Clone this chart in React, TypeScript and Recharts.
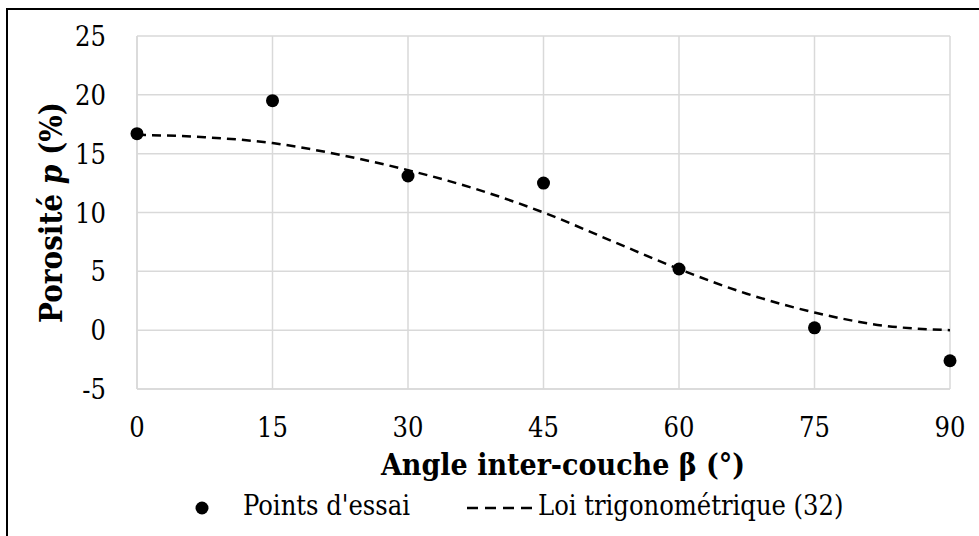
import { CartesianGrid, ComposedChart, Label, Line, Scatter, XAxis, YAxis } from "recharts";

const essaiAngles = [0, 15, 30, 45, 60, 75, 90];
const essaiPorosite = [16.7, 19.5, 13.1, 12.5, 5.2, 0.2, -2.6];

const loiAngles = [0, 7.5, 15, 22.5, 30, 37.5, 45, 52.5, 60, 67.5, 75, 82.5, 90];
const loiPorosite = [16.6, 16.4, 15.9, 14.9, 13.6, 12.0, 10.0, 7.6, 5.2, 3.1, 1.5, 0.4, 0.0];

const xTicks = [0, 15, 30, 45, 60, 75, 90];
const yTicks = [-5, 0, 5, 10, 15, 20, 25];

const essai = essaiAngles.map((x, i) => ({ x, p: essaiPorosite[i] }));
const loi = loiAngles.map((x, i) => ({ x, p: loiPorosite[i] }));

// Liberation Serif isn't picked up here, the condensed DejaVu face is the closest to Times
const SERIF = '"DejaVu Serif Condensed", "DejaVu Serif", serif';
const txt = { fontFamily: SERIF, fontStretch: "condensed" } as const;
const GRID = "#d9d9d9";

function XTick({ x, y, payload }: any) {
  return (
    <text x={x} y={y + 46} textAnchor="middle" style={txt} fontSize={27} fill="#000">
      {payload.value}
    </text>
  );
}

function YTick({ x, y, payload }: any) {
  return (
    <text x={x - 29} y={y + 10} textAnchor="end" style={txt} fontSize={27} fill="#000">
      {payload.value}
    </text>
  );
}

function YTitle({ viewBox }: any) {
  const cy = viewBox.y + viewBox.height / 2;
  return (
    <text
      x={62}
      y={cy}
      transform={`rotate(-90 62 ${cy})`}
      textAnchor="middle"
      style={txt}
      fontSize={31}
      fontWeight="bold"
      fill="#000"
    >
      Porosité <tspan fontStyle="italic">p</tspan> (%)
    </text>
  );
}

function XTitle({ viewBox }: any) {
  return (
    <text x={563} y={viewBox.y + 86} textAnchor="middle" style={txt} fontSize={30} fontWeight="bold" fill="#000">
      Angle inter-couche β (°)
    </text>
  );
}

export default function App() {
  return (
    <div style={{ position: "absolute", left: 0, top: 0, width: 979, height: 536, overflow: "hidden", background: "#fff", ...txt }}>
      <div style={{ position: "absolute", left: 6, top: 8, width: 1100, height: 700, border: "2px solid #000" }} />
      <ComposedChart
        width={979}
        height={536}
        margin={{ top: 36, right: 29, bottom: 87, left: 0 }}
        style={{ position: "absolute", left: 0, top: 0 }}
      >
        <CartesianGrid stroke={GRID} strokeWidth={1.5} />
        <XAxis
          type="number"
          dataKey="x"
          domain={[0, 90]}
          ticks={xTicks}
          height={60}
          tickLine={false}
          tickSize={0}
          axisLine={{ stroke: GRID, strokeWidth: 1.5 }}
          tick={<XTick />}
          interval={0}
        >
          <Label content={<XTitle />} />
        </XAxis>
        <YAxis
          type="number"
          domain={[-5, 25]}
          ticks={yTicks}
          width={137}
          tickLine={false}
          tickSize={0}
          axisLine={{ stroke: GRID, strokeWidth: 1.5 }}
          tick={<YTick />}
          interval={0}
        >
          <Label content={<YTitle />} />
        </YAxis>
        <Line
          data={loi}
          dataKey="p"
          type="monotone"
          stroke="#000"
          strokeWidth={2.5}
          strokeDasharray="9 6"
          dot={false}
          activeDot={false}
          isAnimationActive={false}
        />
        <Scatter data={essai} dataKey="p" fill="#000" shape={(props: any) => <circle cx={props.cx} cy={props.cy} r={6.5} fill="#000" />} isAnimationActive={false} />
      </ComposedChart>
      <div style={{ position: "absolute", left: 0, top: 490, width: 979, fontSize: 27, color: "#000", whiteSpace: "nowrap" }}>
        <svg width={14} height={14} style={{ position: "absolute", left: 195, top: 11 }}>
          <circle cx={7} cy={7} r={6.5} fill="#000" />
        </svg>
        <span style={{ position: "absolute", left: 243, top: 0 }}>Points d'essai</span>
        <svg width={66} height={6} style={{ position: "absolute", left: 467, top: 15 }}>
          <line x1={0} y1={3} x2={66} y2={3} stroke="#000" strokeWidth={2.5} strokeDasharray="11 7" />
        </svg>
        <span style={{ position: "absolute", left: 538, top: 0 }}>Loi trigonométrique (32)</span>
      </div>
    </div>
  );
}
